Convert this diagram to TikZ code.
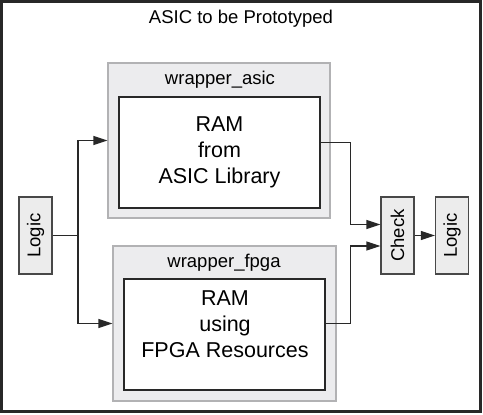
\documentclass[tikz,border=0pt]{standalone}
\usepackage{fontspec}
\setmainfont{Liberation Sans}
\usetikzlibrary{arrows.meta}

\definecolor{wrapfill}{RGB}{236,236,238}
\definecolor{wrapdraw}{RGB}{178,178,180}
\definecolor{boxfill}{RGB}{236,236,236}
\definecolor{linedark}{RGB}{40,40,40}

\tikzset{
  wrapper/.style={rectangle,fill=wrapfill,draw=wrapdraw,line width=1.2pt,
    minimum width=222pt,minimum height=155pt,inner sep=0pt},
  rambox/.style={rectangle,fill=white,draw=linedark,line width=1.5pt,
    minimum width=201pt,minimum height=111pt,inner sep=0pt,align=center,
    font=\fontsize{21.5}{26}\selectfont},
  smallbox/.style={rectangle,fill=boxfill,draw=linedark!85,line width=1.3pt,
    rotate=90,minimum width=77pt,minimum height=33pt,inner sep=0pt,
    font=\fontsize{18.5}{22}\selectfont},
  wraplabel/.style={font=\fontsize{18.5}{22}\selectfont,inner sep=0pt},
  wire/.style={draw=linedark,line width=1.3pt}
}

\begin{document}
\begin{tikzpicture}[x=1pt,y=-1pt,>={Triangle[length=14pt,width=9pt]}]
\useasboundingbox (0,0) rectangle (483,415);
% outer frame
\draw[linedark,line width=3pt] (1.5,1.5) rectangle (480,411.5);
\node[font=\fontsize{18.5}{22}\selectfont] (title) at (241,19) {ASIC to be Prototyped};

% wrappers
\node[wrapper] (wasic) at (219,140.5) {};
\node[wraplabel] (wasiclabel) at (220,80) {wrapper\_asic};
\node[rambox] (asicram) at (219.5,152.5) {RAM\\from\\ASIC Library};

\node[wrapper,minimum width=223pt] (wfpga) at (224.5,323.5) {};
\node[wraplabel] (wfpgalabel) at (224,263) {wrapper\_fpga};
\node[rambox] (fpgaram) at (224.5,334.5) {};
\node[align=center,inner sep=0pt,font=\fontsize{21.5}{26}\selectfont] (fpgatext) at (225,324) {RAM\\using\\FPGA Resources};

% small blocks
\node[smallbox] (logicin) at (35.5,235.5) {Logic};
\node[smallbox] (check) at (397.5,235.5) {Check};
\node[smallbox] (logicout) at (452,235.5) {Logic};

% wires
\coordinate (split) at (78,235.5);
\draw[wire] (logicin) -- (split);
\draw[wire,->] (split) |- (wasic.west);
\draw[wire,->] (split) |- (wfpga.west);
\draw[wire,->] ([yshift=10pt]asicram.east) -| ([xshift=-30pt,yshift=11pt]check.north) -- ([yshift=11pt]check.north);
\draw[wire,->] ([yshift=11pt]fpgaram.east) -| ([xshift=-30pt,yshift=-10.5pt]check.north) -- ([yshift=-10.5pt]check.north);
\draw[wire,->] (check) -- (logicout);
\end{tikzpicture}
\end{document}
